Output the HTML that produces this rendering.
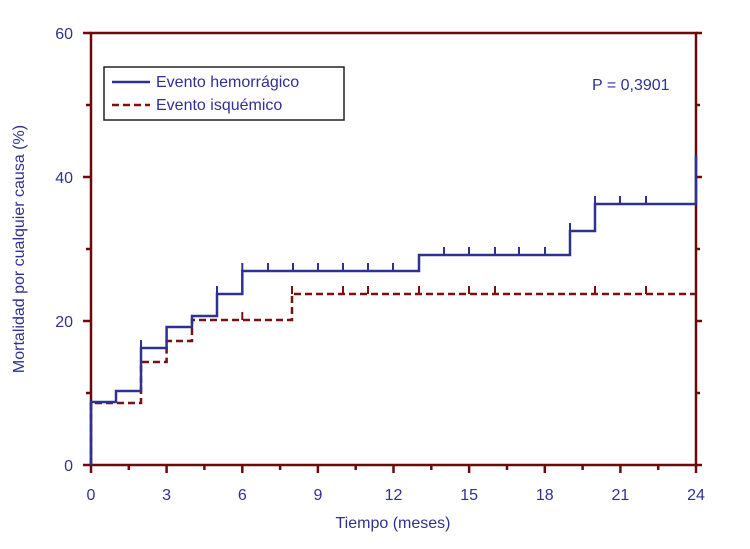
<!DOCTYPE html><html><head><style>body{margin:0;background:#fff}svg{display:block}text{font-family:"Liberation Sans",sans-serif}</style></head><body>
<svg width="750" height="549" xmlns="http://www.w3.org/2000/svg">
<g stroke="#6b0a0a" stroke-width="2.5" fill="none">
<rect x="91" y="33" width="605" height="432"/>
<path d="M91 465v8M166.6 465v8M242.3 465v8M317.9 465v8M393.5 465v8M469.1 465v8M544.8 465v8M620.4 465v8M696 465v8 M128.8 465v5M204.4 465v5M280.1 465v5M355.7 465v5M431.3 465v5M507 465v5M582.6 465v5M658.2 465v5 M91 465h-8M91 321h-8M91 177h-8M91 33h-8M91 393h-5M91 249h-5M91 105h-5 M696 465h6M696 321h6M696 177h6M696 33h6M696 393h4M696 249h4M696 105h4"/>
</g>
<g fill="#2e3192" font-size="16">
<text x="91" y="500" text-anchor="middle">0</text><text x="166.6" y="500" text-anchor="middle">3</text><text x="242.3" y="500" text-anchor="middle">6</text><text x="317.9" y="500" text-anchor="middle">9</text><text x="393.5" y="500" text-anchor="middle">12</text><text x="469.1" y="500" text-anchor="middle">15</text><text x="544.8" y="500" text-anchor="middle">18</text><text x="620.4" y="500" text-anchor="middle">21</text><text x="696" y="500" text-anchor="middle">24</text>
<text x="73" y="471" text-anchor="end">0</text><text x="73" y="327" text-anchor="end">20</text><text x="73" y="183" text-anchor="end">40</text><text x="73" y="39" text-anchor="end">60</text>
<text x="393" y="528" text-anchor="middle">Tiempo (meses)</text>
<text transform="translate(24 249) rotate(-90)" text-anchor="middle">Mortalidad por cualquier causa (%)</text>
<text x="592" y="90">P = 0,3901</text>
<text x="156" y="87">Evento hemorrágico</text><text x="156" y="110">Evento isquémico</text>
</g>
<rect x="104" y="67" width="240" height="53" fill="none" stroke="#222" stroke-width="1.5"/>
<line x1="112" y1="82" x2="150" y2="82" stroke="#2e3192" stroke-width="2.5"/>
<line x1="112" y1="105" x2="150" y2="105" stroke="#7a1010" stroke-width="2.5" stroke-dasharray="7,4"/>
<path d="M91 465V403H141V362H166.6V341H192V320H292V294H696" fill="none" stroke="#7a1010" stroke-width="2.5" stroke-dasharray="7,4"/>
<path d="M242.3 320v-8M343 294v-8M368 294v-8M419 294v-8M469 294v-8M495 294v-8M595 294v-8M646 294v-8M292 294v-8" stroke="#7a1010" stroke-width="2"/>
<path d="M91 465V402H116V391H141V348H166.6V327H192V316H217V294H242.3V271H419V255H570V231H595V204H696V155" fill="none" stroke="#2e3192" stroke-width="2.5"/>
<path d="M141 348v-8M217 294v-8M242.3 271v-8M268 271v-8M293 271v-8M318 271v-8M343 271v-8M368 271v-8M393 271v-8M444 255v-8M469 255v-8M495 255v-8M519 255v-8M545 255v-8M570 231v-8M595 204v-8M620 204v-8M646 204v-8" stroke="#2e3192" stroke-width="2"/>
</svg></body></html>
